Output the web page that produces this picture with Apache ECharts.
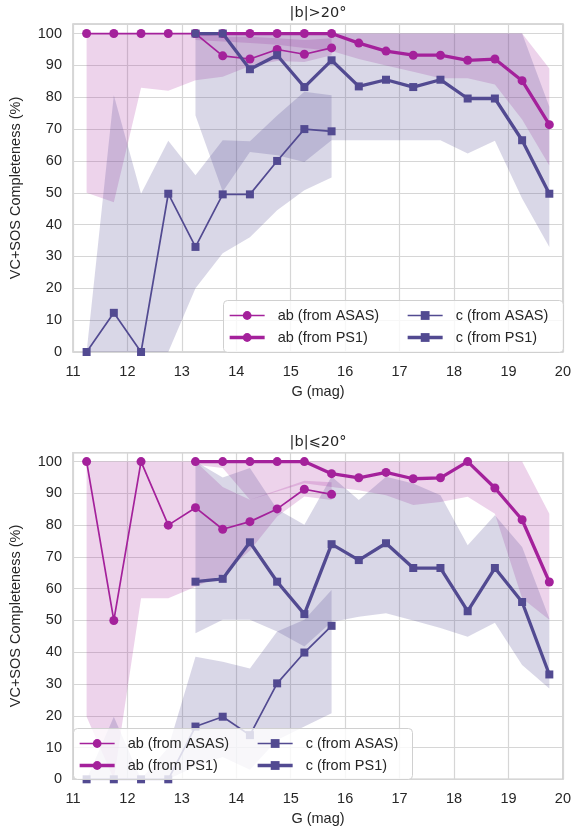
<!DOCTYPE html>
<html><head><meta charset="utf-8">
<script src="https://cdn.jsdelivr.net/npm/echarts@6/dist/echarts.min.js"></script>
<style>html,body{margin:0;padding:0;background:#fff}#c{width:574px;height:832px}</style>
</head><body><div id="c"></div>
<script>
// ---- categories / ticks ----
const magsASAS = [11.25, 11.75, 12.25, 12.75, 13.25, 13.75, 14.25, 14.75, 15.25, 15.75];
const magsPS1 = [13.25, 13.75, 14.25, 14.75, 15.25, 15.75, 16.25, 16.75, 17.25, 17.75, 18.25, 18.75, 19.25, 19.75];
const xTicks = [11, 12, 13, 14, 15, 16, 17, 18, 19, 20];
const yTicks = [0, 10, 20, 30, 40, 50, 60, 70, 80, 90, 100];
const seriesNames = ['ab (from ASAS)', 'ab (from PS1)', 'c (from ASAS)', 'c (from PS1)'];
const panelTitles = ['|b|>20°', '|b|⩽20°'];

// ---- top panel |b|>20 ----
const hiAbAsas = [100, 100, 100, 100, 100, 93, 92, 95, 93.5, 95.5];
const hiAbAsasLo = [50, 47, 83, 82, 85.3, 86.4, 89.8, 91.4, 91.1, 93.2];
const hiAbAsasHi = [100, 100, 100, 100, 100, 99, 99, 98.5, 98, 98.5];
const hiAbPs1 = [100, 100, 100, 100, 100, 100, 97, 94.5, 93.2, 93.2, 91.6, 92, 85.2, 71.4];
const hiAbPs1Lo = [98, 97.5, 97, 96.5, 95.5, 94.5, 92, 90, 88, 86, 86, 84, 73, 58.6];
const hiAbPs1Hi = [100, 100, 100, 100, 100, 100, 100, 100, 100, 100, 100, 100, 100, 89];
const hiCAsas = [0, 12.3, 0, 49.7, 33, 49.5, 49.5, 60, 70, 69.3];
const hiCAsasLo = [0, 0, 0, 0, 20, 31, 36, 44.5, 50.8, 54.8];
const hiCAsasHi = [0, 80.6, 49.7, 66.3, 55.5, 66.5, 66.2, 74.3, 81.7, 80.6];
const hiCPs1 = [100, 100, 88.8, 93.2, 83.2, 91.6, 83.4, 85.5, 83.2, 85.5, 79.6, 79.6, 66.5, 49.7];
const hiCPs1Lo = [74.3, 50.3, 62.8, 61.8, 59.7, 66.5, 66.5, 66.5, 66.5, 66.5, 62.3, 66.3, 48.2, 33];
const hiCPs1Hi = [100, 100, 100, 100, 100, 100, 100, 100, 100, 100, 100, 100, 100, 77];

// ---- bottom panel |b|<=20 ----
const loAbAsas = [100, 50, 100, 80, 85.5, 78.7, 81.1, 85.1, 91.3, 89.7];
const loAbAsasLo = [19.7, 0, 57, 57, 60.6, 64.5, 72, 82.7, 89, 87.9];
const loAbAsasHi = [100, 100, 100, 100, 100, 92, 88, 91, 94, 93.5];
const loAbPs1 = [100, 100, 100, 100, 100, 96.2, 94.9, 96.6, 94.6, 94.9, 100, 91.7, 81.7, 62.1];
const loAbPs1Lo = [99, 98, 88, 90.6, 93.2, 92, 91, 89.4, 86.3, 87.3, 88.9, 83.6, 57, 50.2];
const loAbPs1Hi = [100, 100, 100, 100, 100, 100, 100, 100, 100, 100, 100, 100, 100, 83.6];
const loCAsas = [0, 0, 0, 0, 16.6, 19.7, 13.9, 30.2, 39.9, 48.3];
const loCAsasLo = [0, 0, 0, 0, 4, 7, 3, 12.4, 16.6, 20.8];
const loCAsasHi = [0, 19.7, 0, 10, 38.6, 37, 34.9, 46.5, 50.2, 59.6];
const loCPs1 = [62.2, 63.1, 74.6, 62.2, 52.0, 74.0, 69.0, 74.3, 66.5, 66.5, 52.9, 66.5, 55.8, 33];
const loCPs1Lo = [46, 50.2, 50.2, 46.5, 41.8, 49.5, 51.2, 52.3, 50, 47.6, 44.9, 49.3, 36, 28.6];
const loCPs1Hi = [100, 95, 98, 85, 80.1, 95.3, 87.9, 95.2, 93.1, 89.4, 73.7, 83.1, 73.1, 50.6];

// ---- styling ----
const MAG = '#a4219b';
const PUR = '#524a91';
const MAG_BAND = 'rgba(164,33,155,0.2)';
const PUR_BAND = 'rgba(82,74,145,0.22)';
const FONT = 'Liberation Sans, Arial, sans-serif';
const TXT = '#262626';

function band(g, xs, lo, hi, color) {
  const data = xs.map((x, i) => [x, lo[i], hi[i]]);
  return {
    type: 'custom', xAxisIndex: g, yAxisIndex: g, silent: true, z: 1,
    data: data, encode: { x: 0, y: [1, 2] },
    renderItem: function (params, api) {
      if (params.dataIndex !== 0) return;
      const up = data.map(d => api.coord([d[0], d[2]]));
      const dn = data.map(d => api.coord([d[0], d[1]])).reverse();
      return { type: 'polygon', shape: { points: up.concat(dn) }, style: { fill: color } };
    }
  };
}
function line(g, name, xs, ys, color, thick, symbol) {
  return {
    type: 'line', name: name, xAxisIndex: g, yAxisIndex: g, z: 3,
    data: xs.map((x, i) => [x, ys[i]]),
    symbol: symbol, symbolSize: symbol === 'circle' ? 9 : 8,
    showSymbol: true,
    lineStyle: { color: color, width: thick ? 3.3 : 1.7 },
    itemStyle: { color: color, opacity: 1 },
    emphasis: { disabled: true }
  };
}

const grids = [
  { left: 71.7, right: 9, top: 24, height: 328 },
  { left: 71.7, right: 9, top: 452.7, height: 326.6 }
];
const yMax = [103, 102.8];

function xAxis(g) {
  return {
    type: 'value', gridIndex: g, min: xTicks[0], max: xTicks[xTicks.length - 1], interval: 1,
    name: 'G (mag)', nameLocation: 'middle', nameGap: 32,
    nameTextStyle: { fontFamily: FONT, fontSize: 14.5, color: TXT },
    axisLine: { show: false }, axisTick: { show: false },
    axisLabel: { fontFamily: FONT, fontSize: 14.5, color: TXT, margin: 12,
      formatter: v => xTicks.indexOf(v) >= 0 ? String(v) : '' },
    splitLine: { show: true, lineStyle: { color: '#d6d6d6', width: 1.2 } }
  };
}
function yAxis(g) {
  return {
    type: 'value', gridIndex: g, min: yTicks[0], max: yMax[g], interval: 10,
    name: 'VC+SOS Completeness (%)', nameLocation: 'middle', nameGap: 50,
    nameTextStyle: { fontFamily: FONT, fontSize: 14.5, color: TXT },
    axisLine: { show: false }, axisTick: { show: false },
    axisLabel: { fontFamily: FONT, fontSize: 14.5, color: TXT, margin: 11, showMaxLabel: false,
      formatter: v => yTicks.indexOf(v) >= 0 ? String(v) : '' },
    splitLine: { show: true, lineStyle: { color: '#d6d6d6', width: 1.2 } }
  };
}

function legendItems(names) {
  return names.map(n => ({ name: n, lineStyle: { width: n.indexOf('ASAS') >= 0 ? 1.7 : 3.3 } }));
}
function legend(names, left, top) {
  return {
    data: legendItems(names), orient: 'vertical', left: left, top: top, z: 20,
    itemWidth: 35, itemHeight: 11, itemGap: 7, padding: 0,
    textStyle: { fontFamily: FONT, fontSize: 14.5, color: TXT, padding: [0, 0, 0, 8] },
    selectedMode: false
  };
}
// legend frames (box position: [x, y, w, h])
const legendBoxes = [[223, 300, 340, 52], [73, 728, 339, 51]];
const colOffset = 183;

const series = [];
[[hiAbAsasLo, hiAbAsasHi, hiAbPs1Lo, hiAbPs1Hi, hiCAsasLo, hiCAsasHi, hiCPs1Lo, hiCPs1Hi],
 [loAbAsasLo, loAbAsasHi, loAbPs1Lo, loAbPs1Hi, loCAsasLo, loCAsasHi, loCPs1Lo, loCPs1Hi]].forEach((b, g) => {
  series.push(band(g, magsASAS, b[0], b[1], MAG_BAND));
  series.push(band(g, magsPS1, b[2], b[3], MAG_BAND));
  series.push(band(g, magsASAS, b[4], b[5], PUR_BAND));
  series.push(band(g, magsPS1, b[6], b[7], PUR_BAND));
});
[[hiAbAsas, hiAbPs1, hiCAsas, hiCPs1], [loAbAsas, loAbPs1, loCAsas, loCPs1]].forEach((v, g) => {
  series.push(line(g, seriesNames[0], magsASAS, v[0], MAG, false, 'circle'));
  series.push(line(g, seriesNames[1], magsPS1, v[1], MAG, true, 'circle'));
  series.push(line(g, seriesNames[2], magsASAS, v[2], PUR, false, 'rect'));
  series.push(line(g, seriesNames[3], magsPS1, v[3], PUR, true, 'rect'));
});

const legends = [];
legendBoxes.forEach(b => {
  legends.push(legend(seriesNames.slice(0, 2), b[0] + 5, b[1] + 8));
  legends.push(legend(seriesNames.slice(2, 4), b[0] + colOffset, b[1] + 8));
});

const chart = echarts.init(document.getElementById('c'), null, { renderer: 'canvas' });
chart.setOption({
  animation: false,
  backgroundColor: '#ffffff',
  title: [
    { text: panelTitles[0], left: 318, top: 6, padding: 0, textAlign: 'center',
      textStyle: { fontFamily: 'DejaVu Sans', fontSize: 14.5, fontWeight: 'normal', color: TXT } },
    { text: panelTitles[1], left: 318, top: 434.5, padding: 0, textAlign: 'center',
      textStyle: { fontFamily: 'DejaVu Sans', fontSize: 14.5, fontWeight: 'normal', color: TXT } }
  ],
  grid: grids.map(g => Object.assign({ show: true, borderColor: '#cccccc', borderWidth: 1.5, backgroundColor: 'transparent' }, g)),
  xAxis: [xAxis(0), xAxis(1)],
  yAxis: [yAxis(0), yAxis(1)],
  legend: legends,
  graphic: legendBoxes.map(b => ({
    type: 'rect', z: 10, silent: true,
    shape: { x: b[0] + 0.5, y: b[1] + 0.5, width: b[2], height: b[3], r: 4 },
    style: { fill: 'rgba(255,255,255,0.8)', stroke: '#d0d0d0', lineWidth: 1 }
  })),
  series: series
});
</script></body></html>
